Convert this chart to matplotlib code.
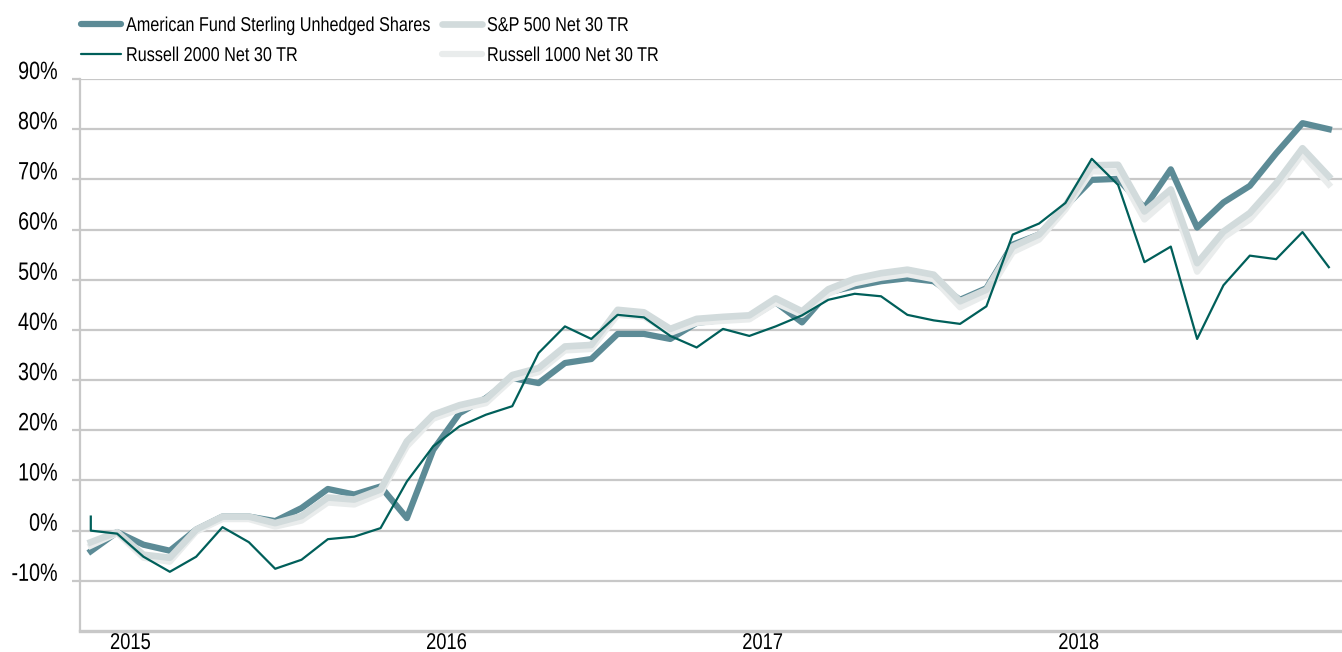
import numpy as np
import matplotlib
matplotlib.use("Agg")
import matplotlib.pyplot as plt
from matplotlib import patheffects
from matplotlib.transforms import Affine2D

# Monthly cumulative returns (%), 48 month-ends
fund = [-4.1, -0.3, -2.8, -4.0, 0.2, 2.8, 2.8, 1.9, 4.5, 8.3, 7.2, 8.8,
        2.5, 16.1, 23.4, 26.4, 30.4, 29.4, 33.4, 34.2, 39.2, 39.2, 38.2, 41.4,
        42.0, 42.3, 45.5, 41.5, 47.5, 48.7, 49.7, 50.3, 49.7, 46.0, 48.3, 57.0,
        59.0, 64.6, 69.9, 70.1, 64.3, 72.0, 60.4, 65.4, 68.7, 75.2, 81.2, 80.0]
sp500 = [-2.3, -0.3, -4.8, -5.4, 0.2, 2.8, 2.8, 1.5, 2.9, 6.6, 6.2, 8.2,
         17.8, 23.1, 25.0, 26.2, 31.0, 32.4, 36.7, 37.0, 44.0, 43.5, 40.2, 42.2,
         42.6, 42.9, 46.3, 43.7, 48.1, 50.2, 51.3, 52.0, 51.0, 45.7, 48.0, 56.6,
         59.0, 64.8, 72.8, 72.9, 63.6, 68.0, 53.3, 59.6, 63.3, 69.2, 76.2, 70.6]
r1000 = [-3.0, -0.5, -5.4, -6.2, -0.2, 2.3, 2.3, 0.8, 2.0, 5.6, 5.2, 7.4,
         16.8, 22.3, 24.2, 25.4, 30.2, 31.6, 35.9, 36.2, 43.0, 42.6, 39.4, 41.4,
         41.8, 42.1, 45.4, 43.0, 47.2, 49.3, 50.4, 51.1, 50.1, 44.5, 47.0, 55.5,
         58.0, 64.0, 71.6, 71.5, 62.0, 66.6, 51.6, 58.4, 62.0, 68.0, 75.0, 69.0]
# Russell 2000 series opens with an extra starting value on the first month
r2000_open = 2.8
r2000 = [0.0, -0.6, -5.2, -8.2, -5.2, 0.7, -2.3, -7.6, -5.8, -1.7, -1.2, 0.5,
         9.8, 16.8, 20.8, 23.1, 24.8, 35.4, 40.7, 38.2, 43.0, 42.5, 38.8, 36.5,
         40.2, 38.8, 40.7, 42.9, 46.0, 47.2, 46.7, 43.0, 41.9, 41.2, 44.7, 59.0,
         61.2, 65.3, 74.1, 68.9, 53.5, 56.6, 38.2, 48.9, 54.8, 54.1, 59.5, 52.5]

years = ["2015", "2016", "2017", "2018"]
year_pos = [1.5, 13.5, 25.5, 37.5]
y_ticks = [-10, 0, 10, 20, 30, 40, 50, 60, 70, 80, 90]

C_FUND = "#5c8b96"
C_R2000 = "#005f5a"
C_SP = "#d2dbdc"
C_R1000 = "#e9ecec"
C_GRID = "#c8c8c8"
FONT = ["Liberation Sans", "DejaVu Sans"]


class Narrow(patheffects.AbstractPathEffect):
    """Squeeze glyphs horizontally (no condensed font installed)."""

    def __init__(self, sx=0.8, pivot="left"):
        super().__init__()
        self.sx = sx
        self.pivot = pivot

    def draw_path(self, renderer, gc, tpath, affine, rgbFace=None):
        ext = tpath.get_extents()
        x0 = {"left": 0.0, "right": ext.x1, "center": 0.5 * (ext.x0 + ext.x1)}[self.pivot]
        squeeze = Affine2D().translate(-x0, 0).scale(self.sx, 1).translate(x0, 0)
        renderer.draw_path(gc, tpath, squeeze + affine, rgbFace)


months = np.arange(len(fund))
x_r2000 = np.concatenate(([months[0]], months))
y_r2000 = np.concatenate(([r2000_open], r2000))

fig = plt.figure(figsize=(13.42, 6.52), dpi=100)
ax = fig.add_axes([80 / 1342, 21 / 652, 1262 / 1342, 552 / 652])

l_fund, = ax.plot(months, fund, color=C_FUND, lw=4.5, zorder=3)
l_r1000, = ax.plot(months, r1000, color=C_R1000, lw=4.5, zorder=4)
l_sp, = ax.plot(months, sp500, color=C_SP, lw=4.8, zorder=5)
l_r2000, = ax.plot(x_r2000, y_r2000, color=C_R2000, lw=1.6, zorder=6)

ax.set_ylim(-20, 90)
ax.set_xlim(-0.41, 47.5)
ax.set_yticks(y_ticks)
ax.set_yticklabels([f"{v}%" for v in y_ticks], family=FONT, fontsize=18)
ax.set_xticks(year_pos)
ax.set_xticklabels(years, family=FONT, fontsize=16.5)
for t in ax.get_yticklabels():
    t.set_verticalalignment("baseline")   # labels sit on top of their gridline
    t.set_path_effects([Narrow(0.79, "right")])
for t in ax.get_xticklabels():
    t.set_path_effects([Narrow(0.8, "center")])

ax.grid(axis="y", color=C_GRID, lw=1.6, zorder=1)
ax.tick_params(axis="y", length=6, width=1.6, color=C_GRID, pad=10)
ax.tick_params(axis="x", length=0, pad=0)
for s in ("top", "right"):
    ax.spines[s].set_visible(False)
ax.spines["left"].set_color(C_GRID)
ax.spines["left"].set_linewidth(1.6)
ax.spines["bottom"].set_color(C_GRID)
ax.spines["bottom"].set_linewidth(2.4)

# two legend columns placed separately, since the squeezed text is narrower than measured
leg_kw = dict(loc="upper left", frameon=False, prop={"family": FONT, "size": 14.4},
              handlelength=2.0, handletextpad=0.25, labelspacing=0.55,
              borderpad=0, borderaxespad=0)
leg1 = fig.legend([l_fund, l_r2000],
                  ["American Fund Sterling Unhedged Shares", "Russell 2000 Net 30 TR"],
                  bbox_to_anchor=(81 / 1342, 1 - 16 / 652), **leg_kw)
leg2 = fig.legend([l_sp, l_r1000], ["S&P 500 Net 30 TR", "Russell 1000 Net 30 TR"],
                  bbox_to_anchor=(442 / 1342, 1 - 16 / 652), **leg_kw)
for leg in (leg1, leg2):
    for h in leg.legend_handles:
        h.set_solid_capstyle("round")
    for t in leg.get_texts():
        t.set_path_effects([Narrow(0.81, "left")])

fig.savefig("out.png", dpi=100)
